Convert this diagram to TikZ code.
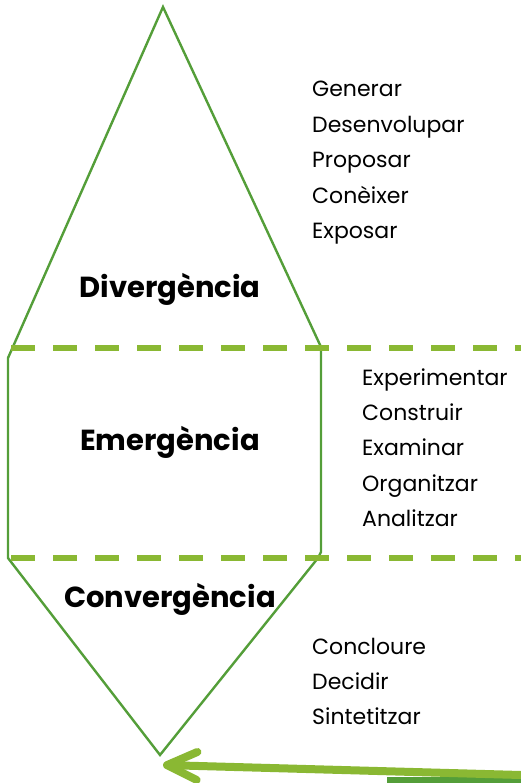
\documentclass[tikz,border=0pt]{standalone}
\usepackage{fontspec}
\setmainfont{Poppins}
\usetikzlibrary{arrows.meta,positioning}
\definecolor{darkgreen}{HTML}{549E39}
\definecolor{lightgreen}{HTML}{8AB833}

\begin{document}
\begin{tikzpicture}[x=1pt,y=-1pt]
    \tikzset{word/.style= {anchor=west, inner sep=0pt
    , text height=17pt, text depth=5pt
    , font=\fontsize{22}{26}\selectfont
      }
    , next/.style= {word, below=13pt of #1.south west, anchor=north west}
    , phase/.style= {anchor=base, inner sep=0pt
    , font=\fontsize{29}{33}\selectfont\bfseries
      }
    , outline/.style= {draw=darkgreen, line width=2.4pt, line join=miter}
    , level/.style= {draw=lightgreen, line width=6pt, dash pattern=on 24pt off 18pt}
    }
\useasboundingbox (0,0) rectangle (521,783);

% the shape
\coordinate (top) at (163,7);
\coordinate (bottom) at (160,755);
\draw [outline] (top) -- (8,358) -- (8,558) -- (bottom) -- (318,558) -- (321,552) -- (321,347) -- cycle;

% dashed limits
\draw [level] (11,348) -- (521,348);
\draw [level] (11,558) -- (521,558);

% phases
\node [phase] (div) at (170,297) {Divergència};
\node [phase] (emer) at (170,450) {Emergència};
\node [phase] (conv) at (170,607) {Convergència};

% verbs
\node [word] (gen) at (312,91) {Generar};
\node [next=gen] (des) {Desenvolupar};
\node [next=des] (pro) {Proposar};
\node [next=pro] (con) {Conèixer};
\node [next=con] (exp) {Exposar};

\node [word] (expe) at (362,379) {Experimentar};
\node [next=expe] (cons) {Construir};
\node [next=cons] (exa) {Examinar};
\node [next=exa] (org) {Organitzar};
\node [next=org] (ana) {Analitzar};

\node [word] (conc) at (312,648) {Concloure};
\node [next=conc] (dec) {Decidir};
\node [next=dec] (sin) {Sintetitzar};

% arrow back to the end
\coordinate (back) at (521,775);
\coordinate (tip) at (163,765);
\fill [darkgreen] (387,777) rectangle (521,783);
\path[draw, -{Straight Barb[length=30pt,width=28pt,round]}, draw=lightgreen, line width=8pt, line cap=round]
  (back) -- (tip);
\end{tikzpicture}
\end{document}
